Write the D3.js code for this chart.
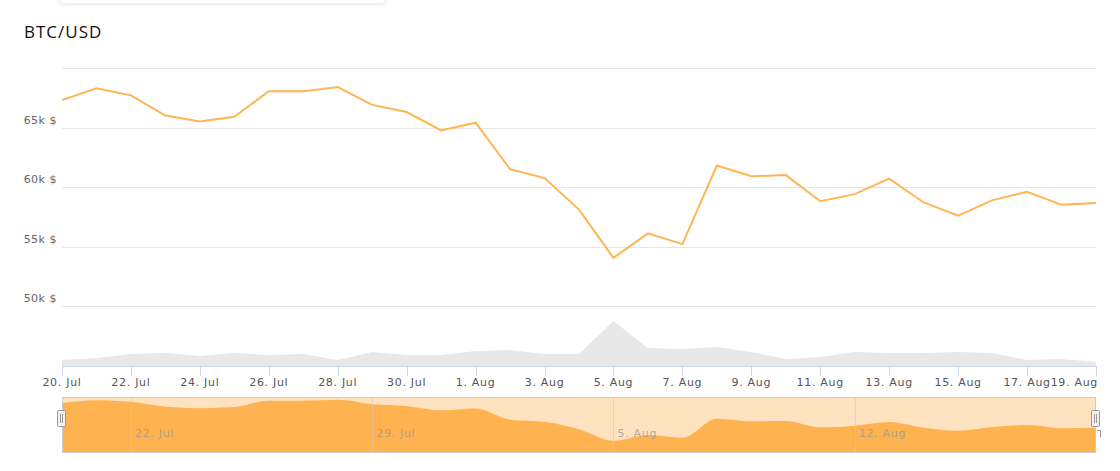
<!DOCTYPE html>
<html><head><meta charset="utf-8">
<script src="https://cdn.jsdelivr.net/npm/d3@7"></script>
<style>body{margin:0;background:#fff}svg{display:block}</style>
</head><body>
<svg id="c" width="1120" height="471"></svg>
<script>
const startDate = new Date(2024, 6, 20);
const prices = [67.3,68.3,67.7,66.0,65.5,65.9,68.05,68.05,68.4,66.9,66.3,64.75,65.4,61.5,60.75,58.1,54.05,56.1,55.2,61.8,60.9,61.0,58.8,59.4,60.7,58.7,57.6,58.9,59.6,58.5,58.65];
const volumes = [6,8,12,13,10,13,11,12,6,14,11,11,15,16,12,12,45,18,17,19,14,7,9,14,13,13,14,13,6,7,4];
const priceTicks = [50,55,60,65,70];
const navTicks = [new Date(2024,6,22),new Date(2024,6,29),new Date(2024,7,5),new Date(2024,7,12)];
const dates = prices.map((_,i)=>d3.timeDay.offset(startDate,i));
const months=["Jan","Feb","Mar","Apr","May","Jun","Jul","Aug","Sep","Oct","Nov","Dec"];
const fmt = d=>d.getDate()+". "+months[d.getMonth()];

const svg=d3.select("#c");
const font="DejaVu Sans, sans-serif";
svg.append("rect").attr("x",60).attr("y",-6).attr("width",325).attr("height",9).attr("rx",4).attr("fill","#fff").style("filter","drop-shadow(0 1px 2px rgba(0,0,0,0.12))");
svg.append("text").attr("x",24).attr("y",38).text("BTC/USD").attr("font-family","Open Sans, sans-serif").attr("font-size",17).attr("letter-spacing",1).attr("fill","#111");

const x=d3.scaleTime().domain([dates[0],dates[dates.length-1]]).range([62,1096]);
const y=d3.scaleLinear().domain([50,70]).range([306,68]);
const yv=d3.scaleLinear().domain([0,45]).range([366,321]);

svg.append("g").selectAll("line").data(priceTicks).join("line")
 .attr("x1",62).attr("x2",1096).attr("y1",d=>Math.round(y(d))+0.5).attr("y2",d=>Math.round(y(d))+0.5)
 .attr("stroke","#e6e6e6");
svg.append("g").selectAll("text").data(priceTicks.filter(d=>d<70)).join("text")
 .attr("x",57).attr("y",d=>y(d)-4).attr("text-anchor","end").text(d=>d+"k $")
 .attr("font-family",font).attr("font-size",11).attr("letter-spacing",0.5).attr("fill","#666");

svg.append("path").datum(volumes).attr("fill","#e8e8e8")
 .attr("d",d3.area().x((d,i)=>x(dates[i])).y0(366).y1(d=>yv(d)));

svg.append("path").datum(prices).attr("fill","none").attr("stroke","#ffb552").attr("stroke-width",2)
 .attr("d",d3.line().x((d,i)=>x(dates[i])).y(d=>y(d)));

const xTickDates=[0,2,4,6,8,10,12,14,16,18,20,22,24,26,28,30].map(i=>dates[i]);
svg.append("line").attr("x1",62).attr("x2",1096).attr("y1",366.5).attr("y2",366.5).attr("stroke","#ccd6eb");
const gx=svg.append("g");
gx.selectAll("line").data(xTickDates).join("line").attr("x1",d=>Math.round(x(d))+0.5).attr("x2",d=>Math.round(x(d))+0.5)
 .attr("y1",366).attr("y2",376).attr("stroke","#ccd6eb");
gx.selectAll("text").data(xTickDates).join("text").attr("x",(d,i)=>i===xTickDates.length-1?1098:x(d))
 .attr("y",386).attr("text-anchor",(d,i)=>i===xTickDates.length-1?"end":"middle")
 .text(fmt).attr("font-family",font).attr("font-size",11).attr("letter-spacing",0.7).attr("fill","#555");

const xn=d3.scaleTime().domain([dates[0],dates[dates.length-1]]).range([62,1096]);
const yn=d3.scaleLinear().domain([50.2,69.4]).range([452,397]);
svg.append("rect").attr("x",62).attr("y",397).attr("width",1034).attr("height",55).attr("fill","#ffe3c1");
svg.append("path").datum(prices).attr("fill","#ffb250")
 .attr("d",d3.area().curve(d3.curveMonotoneX).x((d,i)=>xn(dates[i])).y0(452).y1(d=>yn(d)));
svg.append("g").selectAll("line").data(navTicks).join("line").attr("x1",d=>Math.round(xn(d))+0.5).attr("x2",d=>Math.round(xn(d))+0.5)
 .attr("y1",397).attr("y2",452).attr("stroke","#e0c9a8").attr("stroke-opacity",0.6);
svg.append("g").selectAll("text").data(navTicks).join("text").attr("x",d=>xn(d)+4).attr("y",437)
 .text(fmt).attr("font-family",font).attr("font-size",11).attr("letter-spacing",0.7).attr("fill","#999").attr("fill-opacity",0.8);
svg.append("rect").attr("x",62.5).attr("y",397.5).attr("width",1033).attr("height",55).attr("fill","none").attr("stroke","#cccccc");
[62,1096].forEach(hx=>{
 const g=svg.append("g").attr("transform",`translate(${hx},0)`);
 g.append("rect").attr("x",-4.5).attr("y",410.5).attr("width",8).attr("height",16).attr("rx",1).attr("fill","#f2f2f2").attr("stroke","#999");
 g.append("line").attr("x1",-1.5).attr("x2",-1.5).attr("y1",414).attr("y2",423).attr("stroke","#999");
 g.append("line").attr("x1",0.5).attr("x2",0.5).attr("y1",414).attr("y2",423).attr("stroke","#999");
});
svg.append("path").attr("d","M1097,430.5H1100.5V437").attr("fill","none").attr("stroke","#999");
</script>
</body></html>
